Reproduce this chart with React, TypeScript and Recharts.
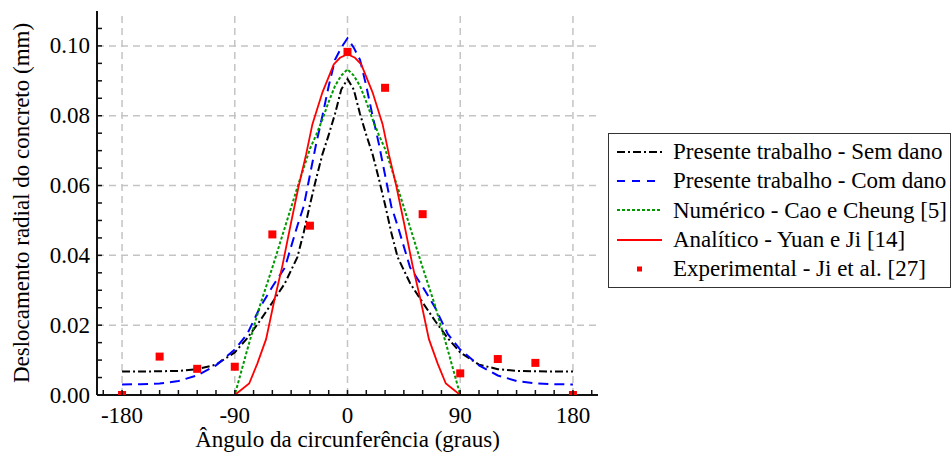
import React from 'react';
import { ComposedChart, Line, Scatter, XAxis, YAxis, ReferenceLine, Label } from 'recharts';

// Angles (graus) and radial displacement (mm)
const semDanoAngles = [-180, -165, -150, -135, -120, -105, -90, -80, -70, -60, -50, -40, -35, -30, -25, -20, -15, -10, -5, 0, 5, 10, 15, 20, 25, 30, 35, 40, 50, 60, 70, 80, 90, 105, 120, 135, 150, 165, 180];
const semDanoValues = [0.0067, 0.0067, 0.0068, 0.0069, 0.0074, 0.0087, 0.0122, 0.0163, 0.0212, 0.0265, 0.032, 0.0395, 0.0465, 0.0545, 0.062, 0.069, 0.0745, 0.0805, 0.0875, 0.0905, 0.0875, 0.0805, 0.0745, 0.069, 0.062, 0.0545, 0.0465, 0.0395, 0.032, 0.0265, 0.0212, 0.0163, 0.0122, 0.0087, 0.0074, 0.0069, 0.0068, 0.0067, 0.0067];

const comDanoAngles = [-180, -165, -150, -135, -120, -105, -90, -80, -70, -60, -50, -40, -35, -30, -25, -20, -15, -10, -5, 0, 5, 10, 15, 20, 25, 30, 35, 40, 50, 60, 70, 80, 90, 105, 120, 135, 150, 165, 180];
const comDanoValues = [0.003, 0.0031, 0.0033, 0.004, 0.0056, 0.0085, 0.013, 0.0175, 0.025, 0.031, 0.0365, 0.0485, 0.054, 0.063, 0.072, 0.08, 0.0885, 0.096, 0.0995, 0.1022, 0.0995, 0.096, 0.0885, 0.08, 0.072, 0.063, 0.054, 0.0485, 0.0365, 0.031, 0.025, 0.0175, 0.013, 0.0085, 0.0056, 0.004, 0.0033, 0.0031, 0.003];

const numericoAngles = [-180, -90, -80, -70, -60, -50, -40, -30, -25, -20, -15, -10, -5, 0, 5, 10, 15, 20, 25, 30, 40, 50, 60, 70, 80, 90, 180];
const numericoValues = [0, 0, 0.013, 0.0255, 0.0365, 0.048, 0.0595, 0.0705, 0.0745, 0.079, 0.084, 0.0885, 0.0915, 0.0933, 0.0915, 0.0885, 0.084, 0.079, 0.0745, 0.0705, 0.0595, 0.048, 0.0365, 0.0255, 0.013, 0, 0];

const analiticoAngles = [-180, -90, -78.5, -72, -65, -58.5, -52, -45, -39, -33, -28, -20, -11, -6, 0, 6, 11, 20, 28, 33, 39, 45, 52, 58.5, 65, 72, 78.5, 90, 180];
const analiticoValues = [0, 0, 0.0033, 0.009, 0.016, 0.027, 0.037, 0.0495, 0.0598, 0.069, 0.0776, 0.0867, 0.0947, 0.0966, 0.0976, 0.0966, 0.0947, 0.0867, 0.0776, 0.069, 0.0598, 0.0495, 0.037, 0.027, 0.016, 0.009, 0.0033, 0, 0];

const experimentalAngles = [-180, -150, -120, -90, -60, -30, 0, 30, 60, 90, 120, 150, 180];
const experimentalValues = [0, 0.011, 0.0075, 0.0081, 0.046, 0.0485, 0.0983, 0.088, 0.0518, 0.0062, 0.0103, 0.0092, 0];

// Axis ticks
const xMajorTicks = [-180, -90, 0, 90, 180];
const xMinorTicks = [-195, -180, -165, -150, -135, -120, -105, -90, -75, -60, -45, -30, -15, 0, 15, 30, 45, 60, 75, 90, 105, 120, 135, 150, 165, 180, 195];
const yMajorTicks = [0, 0.02, 0.04, 0.06, 0.08, 0.1];
const yMinorTicks = [0, 0.005, 0.01, 0.015, 0.02, 0.025, 0.03, 0.035, 0.04, 0.045, 0.05, 0.055, 0.06, 0.065, 0.07, 0.075, 0.08, 0.085, 0.09, 0.095, 0.1, 0.105];

const toPoints = (xs: number[], ys: number[]) => xs.map((x, i) => ({ x, y: ys[i] }));

const semDano = toPoints(semDanoAngles, semDanoValues);
const comDano = toPoints(comDanoAngles, comDanoValues);
const numerico = toPoints(numericoAngles, numericoValues);
const analitico = toPoints(analiticoAngles, analiticoValues);
const experimental = toPoints(experimentalAngles, experimentalValues);

const FONT = 'Liberation Serif';
const TICK_LEN = 5;
const isMajor = (v: number, list: number[]) => list.some(m => Math.abs(m - v) < 1e-9);

const BottomTick = (props: any) => {
  const { x, y, payload } = props;
  const v = payload.value;
  return (
    <g>
      <line x1={x} x2={x} y1={y} y2={y - TICK_LEN} stroke="#111" strokeWidth={1.5} />
      {isMajor(v, xMajorTicks) && (
        <text x={x} y={y + 20} textAnchor="middle" dominantBaseline="central" fontFamily={FONT} fontSize={23} fill="#000">
          {String(v)}
        </text>
      )}
    </g>
  );
};

const TopTick = (props: any) => {
  const { x, y } = props;
  return <line x1={x} x2={x} y1={y} y2={y + TICK_LEN} stroke="#111" strokeWidth={1.5} />;
};

const LeftTick = (props: any) => {
  const { x, y, payload } = props;
  const v = payload.value;
  return (
    <g>
      <line x1={x} x2={x + TICK_LEN} y1={y} y2={y} stroke="#111" strokeWidth={1.5} />
      {isMajor(v, yMajorTicks) && (
        <text x={x - 7} y={y} textAnchor="end" dominantBaseline="central" fontFamily={FONT} fontSize={23} fill="#000">
          {v.toFixed(2)}
        </text>
      )}
    </g>
  );
};

const RightTick = (props: any) => {
  const { x, y } = props;
  return <line x1={x} x2={x - TICK_LEN} y1={y} y2={y} stroke="#111" strokeWidth={1.5} />;
};

const SquareDot = (props: any) => {
  const { cx, cy } = props;
  if (cx == null || cy == null) return null;
  return <rect x={cx - 4} y={cy - 4} width={8} height={8} fill="#ff0000" />;
};

const legendItems = [
  { label: 'Presente trabalho - Sem dano', color: '#000000', dash: '8 3 2 3', kind: 'line' },
  { label: 'Presente trabalho - Com dano', color: '#0000ff', dash: '8 7', kind: 'line' },
  { label: 'Numérico - Cao e Cheung [5]', color: '#009900', dash: '3 2', kind: 'line' },
  { label: 'Analítico - Yuan e Ji [14]', color: '#ff0000', dash: '', kind: 'line' },
  { label: 'Experimental - Ji et al. [27]', color: '#ff0000', dash: '', kind: 'square' },
];

const ChartLegend = () => (
  <div
    style={{
      position: 'absolute',
      left: 608,
      top: 133,
      width: 343,
      height: 155,
      boxSizing: 'border-box',
      border: '1.5px solid #333',
      paddingTop: 3,
      background: '#fff',
      fontFamily: FONT,
    }}
  >
    {legendItems.map(item => (
      <div key={item.label} style={{ display: 'flex', alignItems: 'center', height: 29.3 }}>
        <svg width={45} height={10} style={{ marginLeft: 8, marginRight: 11, flex: 'none' }}>
          {item.kind === 'line' ? (
            <line x1={0} x2={45} y1={5} y2={5} stroke={item.color} strokeWidth={2} strokeDasharray={item.dash || undefined} />
          ) : (
            <rect x={20} y={2.5} width={5} height={5} fill={item.color} />
          )}
        </svg>
        <span style={{ fontFamily: FONT, fontSize: 23, lineHeight: 1, whiteSpace: 'nowrap', color: '#000' }}>{item.label}</span>
      </div>
    ))}
  </div>
);

const App: React.FC = () => {
  return (
    <div style={{ position: 'absolute', left: 0, top: 0, width: 951, height: 455, fontFamily: FONT, background: '#fff' }}>
      <ComposedChart width={951} height={455} margin={{ top: 11, right: 353, bottom: 0, left: 0 }}>
        <XAxis
          xAxisId="b"
          type="number"
          dataKey="x"
          domain={[-200, 200]}
          allowDataOverflow
          ticks={xMinorTicks}
          interval={0}
          tickSize={0}
          tickMargin={0}
          height={60}
          axisLine={{ stroke: '#111', strokeWidth: 2 }}
          tickLine={false}
          tick={<BottomTick />}
        >
          <Label
            content={(p: any) => {
              const vb = p.viewBox;
              return (
                <text x={vb.x + vb.width / 2} y={447} textAnchor="middle" fontFamily={FONT} fontSize={23} fill="#000">
                  Ângulo da circunferência (graus)
                </text>
              );
            }}
          />
        </XAxis>
        <XAxis
          xAxisId="t"
          orientation="top"
          type="number"
          dataKey="x"
          domain={[-200, 200]}
          allowDataOverflow
          ticks={xMinorTicks}
          interval={0}
          tickSize={0}
          tickMargin={0}
          height={0}
          axisLine={{ stroke: '#111', strokeWidth: 2 }}
          tickLine={false}
          tick={<TopTick />}
        />
        <YAxis
          yAxisId="l"
          type="number"
          dataKey="y"
          domain={[0, 0.11]}
          allowDataOverflow
          ticks={yMinorTicks}
          interval={0}
          tickSize={0}
          tickMargin={0}
          width={97}
          axisLine={{ stroke: '#111', strokeWidth: 2 }}
          tickLine={false}
          tick={<LeftTick />}
        >
          <Label
            content={(p: any) => {
              const vb = p.viewBox;
              const cy = vb.y + vb.height / 2;
              return (
                <text x={21} y={cy} transform={`rotate(-90, 21, ${cy})`} textAnchor="middle" dominantBaseline="central" fontFamily={FONT} fontSize={23} fill="#000">
                  Deslocamento radial do concreto (mm)
                </text>
              );
            }}
          />
        </YAxis>
        <YAxis
          yAxisId="r"
          orientation="right"
          type="number"
          dataKey="y"
          domain={[0, 0.11]}
          allowDataOverflow
          ticks={yMinorTicks}
          interval={0}
          tickSize={0}
          tickMargin={0}
          width={0}
          axisLine={{ stroke: '#111', strokeWidth: 2 }}
          tickLine={false}
          tick={<RightTick />}
        />

        {xMajorTicks.map(v => (
          <ReferenceLine key={`gx${v}`} xAxisId="b" yAxisId="l" x={v} stroke="#c4c4c4" strokeWidth={1.5} strokeDasharray="7 5" />
        ))}
        {yMajorTicks.filter(v => v > 0).map(v => (
          <ReferenceLine key={`gy${v}`} xAxisId="b" yAxisId="l" y={v} stroke="#c4c4c4" strokeWidth={1.5} strokeDasharray="7 5" />
        ))}

        <Line xAxisId="b" yAxisId="l" data={semDano} dataKey="y" type="linear" stroke="#000000" strokeWidth={2} strokeDasharray="8 3 2 3" dot={false} activeDot={false} isAnimationActive={false} />
        <Line xAxisId="b" yAxisId="l" data={comDano} dataKey="y" type="linear" stroke="#0000ff" strokeWidth={2} strokeDasharray="10 6" dot={false} activeDot={false} isAnimationActive={false} />
        <Line xAxisId="b" yAxisId="l" data={numerico} dataKey="y" type="linear" stroke="#009900" strokeWidth={2} strokeDasharray="3 2" dot={false} activeDot={false} isAnimationActive={false} />
        <Line xAxisId="b" yAxisId="l" data={analitico} dataKey="y" type="linear" stroke="#ff0000" strokeWidth={1.8} dot={false} activeDot={false} isAnimationActive={false} />
        <Scatter xAxisId="b" yAxisId="l" data={experimental} dataKey="y" shape={<SquareDot />} isAnimationActive={false} />
      </ComposedChart>
      <ChartLegend />
    </div>
  );
};

export default App;
